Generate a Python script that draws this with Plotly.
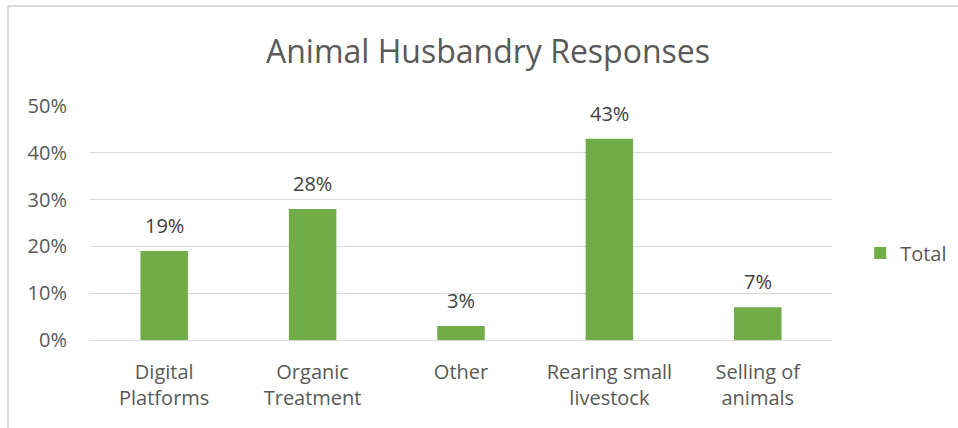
import plotly.graph_objects as go

# Survey shares by response category
categories = ["Digital<br>Platforms", "Organic<br>Treatment", "Other",
              "Rearing small<br>livestock", "Selling of<br>animals"]
totals = [0.19, 0.28, 0.03, 0.43, 0.07]
y_ticks = [0, 0.1, 0.2, 0.3, 0.4, 0.5]

GREEN = "#70AD47"
GRID = "#D9D9D9"
TEXT = "#595959"
LABEL = "#404040"
FONT = "Open Sans"

fig = go.Figure(
    go.Bar(
        x=categories,
        y=totals,
        name="Total",
        marker=dict(color=GREEN, line=dict(width=0)),
        showlegend=True,
    )
)

# value labels above each bar
for cat, val in zip(categories, totals):
    fig.add_annotation(
        x=cat, y=val, xref="x", yref="y",
        text=f"{val:.0%}",
        showarrow=False,
        yanchor="bottom",
        yshift=10,
        font=dict(family=FONT, size=20, color=LABEL),
    )

fig.update_layout(
    width=958,
    height=428,
    margin=dict(l=90, r=126, t=106, b=88, autoexpand=False),
    paper_bgcolor="white",
    plot_bgcolor="white",
    bargap=0.68,
    font=dict(family=FONT, color=TEXT),
    title=dict(
        text="Animal Husbandry Responses",
        x=488 / 958,
        xref="container",
        xanchor="center",
        y=1 - 52 / 428,
        yref="container",
        yanchor="middle",
        font=dict(family=FONT, size=32, color=TEXT),
    ),
    legend=dict(
        x=1.038,
        y=0.372,
        xanchor="left",
        yanchor="middle",
        font=dict(family=FONT, size=20, color=TEXT),
        itemwidth=30,
        bgcolor="rgba(0,0,0,0)",
    ),
    xaxis=dict(
        showgrid=False,
        showline=True,
        linecolor=GRID,
        linewidth=1,
        ticks="outside",
        ticklen=14,
        tickcolor="rgba(0,0,0,0)",
        tickfont=dict(family=FONT, size=20, color=TEXT),
    ),
    yaxis=dict(
        range=[0, 0.5],
        tickvals=y_ticks,
        tickformat=".0%",
        showgrid=True,
        gridcolor=GRID,
        gridwidth=1,
        zeroline=False,
        showline=False,
        ticks="outside",
        ticklen=18,
        tickcolor="rgba(0,0,0,0)",
        tickfont=dict(family=FONT, size=20, color=TEXT),
    ),
    shapes=[
        # chart frame (left and top edges)
        dict(type="line", xref="paper", yref="paper",
             x0=-0.1105, x1=-0.1105, y0=-0.6, y1=1.4274,
             line=dict(color=GRID, width=2)),
        dict(type="line", xref="paper", yref="paper",
             x0=-0.1105, x1=1.175, y0=1.4274, y1=1.4274,
             line=dict(color=GRID, width=2)),
    ],
)

fig.write_html("out.html")
